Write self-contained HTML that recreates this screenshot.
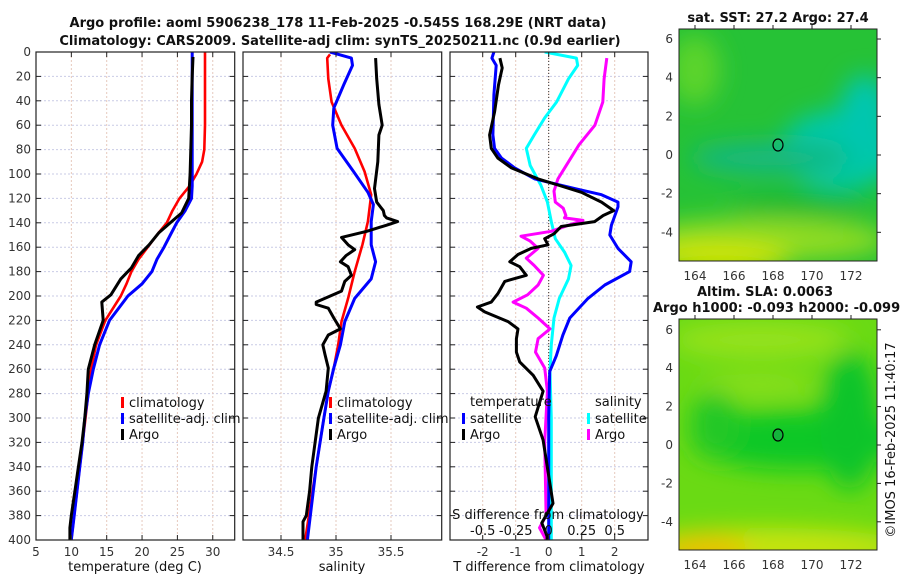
<!DOCTYPE html>
<html><head><meta charset="utf-8">
<style>
html,body{margin:0;padding:0;background:#fff;}
svg{display:block;font-family:"DejaVu Sans","Liberation Sans",sans-serif;}
.tk{font-size:12px;fill:#333;}
.lg{font-size:13px;fill:#111;}
.tt{font-size:13px;font-weight:bold;fill:#111;}
</style></head>
<body>
<svg id="fig" width="900" height="580" viewBox="0 0 900 580">
<defs>
<filter id="blur1" x="-50%" y="-50%" width="200%" height="200%"><feGaussianBlur stdDeviation="12"/></filter>
<clipPath id="clipM1"><rect x="679" y="29" width="198" height="232"/></clipPath>
<clipPath id="clipM2"><rect x="679" y="319" width="198" height="231"/></clipPath>
<clipPath id="clipP1"><rect x="36" y="52" width="199" height="488"/></clipPath>
<clipPath id="clipP2"><rect x="243" y="52" width="199" height="488"/></clipPath>
<clipPath id="clipP3"><rect x="450" y="52" width="198" height="488"/></clipPath>
</defs>
<text class="tt" x="338" y="27" text-anchor="middle">Argo profile: aoml 5906238_178 11-Feb-2025 -0.545S 168.29E (NRT data)</text>
<text class="tt" x="340" y="45" text-anchor="middle">Climatology: CARS2009. Satellite-adj clim: synTS_20250211.nc (0.9d earlier)</text>

<g id="grids"></g>
<g id="series"></g>
<g id="axes"></g>

<g>
<rect x="121" y="397" width="3" height="11" fill="#f00"/><text class="lg" x="129" y="407">climatology</text>
<rect x="121" y="413" width="3" height="11" fill="#00f"/><text class="lg" x="129" y="423">satellite-adj. clim</text>
<rect x="121" y="429" width="3" height="11" fill="#000"/><text class="lg" x="129" y="439">Argo</text>
</g>
<g>
<rect x="329" y="397" width="3" height="11" fill="#f00"/><text class="lg" x="337" y="407">climatology</text>
<rect x="329" y="413" width="3" height="11" fill="#00f"/><text class="lg" x="337" y="423">satellite-adj. clim</text>
<rect x="329" y="429" width="3" height="11" fill="#000"/><text class="lg" x="337" y="439">Argo</text>
</g>
<g>
<text class="lg" x="470" y="406">temperature</text>
<rect x="462" y="413" width="3" height="11" fill="#00f"/><text class="lg" x="470" y="423">satellite</text>
<rect x="462" y="429" width="3" height="11" fill="#000"/><text class="lg" x="470" y="439">Argo</text>
<text class="lg" x="595" y="406">salinity</text>
<rect x="587" y="413" width="3" height="11" fill="#0ff"/><text class="lg" x="595" y="423">satellite</text>
<rect x="587" y="429" width="3" height="11" fill="#f0f"/><text class="lg" x="595" y="439">Argo</text>
</g>

<text class="lg" x="548" y="519" text-anchor="middle">S difference from climatology</text>
<g id="sdiffticks"></g>

<text class="lg" x="135" y="571" text-anchor="middle">temperature (deg C)</text>
<text class="lg" x="342" y="571" text-anchor="middle">salinity</text>
<text class="lg" x="549" y="571" text-anchor="middle">T difference from climatology</text>

<g>
<text class="tt" x="778" y="22" text-anchor="middle">sat. SST: 27.2 Argo: 27.4</text>
<g clip-path="url(#clipM1)">
<rect x="679" y="29" width="198" height="232" fill="#26c236"/>
<g filter="url(#blur1)">
<ellipse cx="695" cy="70" rx="25" ry="35" fill="#5cd42a"/>
<ellipse cx="840" cy="150" rx="60" ry="40" fill="#00c8a8"/>
<ellipse cx="770" cy="158" rx="80" ry="16" fill="#12b880"/>
<ellipse cx="865" cy="115" rx="25" ry="40" fill="#00c6b0"/>
<ellipse cx="760" cy="240" rx="130" ry="22" fill="#90dc20"/>
<ellipse cx="720" cy="258" rx="70" ry="16" fill="#d0e400"/>
<ellipse cx="800" cy="205" rx="70" ry="12" fill="#18b830"/>
</g>
</g>
<rect x="679" y="29" width="198" height="232" fill="none" stroke="#222" stroke-width="1"/>
<ellipse cx="778" cy="145" rx="5" ry="6" fill="none" stroke="#000" stroke-width="1.2"/>
</g>
<g>
<text class="tt" x="765" y="296" text-anchor="middle">Altim. SLA: 0.0063</text>
<text class="tt" x="653" y="312">Argo h1000: -0.093 h2000: -0.099</text>
<g clip-path="url(#clipM2)">
<rect x="679" y="319" width="198" height="231" fill="#6ada14"/>
<g filter="url(#blur1)">
<ellipse cx="760" cy="340" rx="90" ry="18" fill="#96e21a"/>
<ellipse cx="760" cy="385" rx="60" ry="10" fill="#90e01a"/>
<ellipse cx="800" cy="440" rx="110" ry="30" fill="#10c828"/>
<ellipse cx="715" cy="425" rx="25" ry="35" fill="#20c828"/>
<ellipse cx="850" cy="420" rx="30" ry="70" fill="#08c42c"/>
<ellipse cx="770" cy="548" rx="140" ry="20" fill="#c8e410"/>
<ellipse cx="705" cy="552" rx="45" ry="16" fill="#f0c000"/>
</g>
</g>
<rect x="679" y="319" width="198" height="231" fill="none" stroke="#222" stroke-width="1"/>
<ellipse cx="778" cy="435" rx="5" ry="6" fill="#14b43c" stroke="#000" stroke-width="1.2"/>
</g>
<g id="mapticks"></g>
<text class="lg" x="0" y="0" transform="translate(895,440) rotate(-90)" text-anchor="middle">©IMOS 16-Feb-2025 11:40:17</text>
</svg>

<script>
const depthTicks = [0,20,40,60,80,100,120,140,160,180,200,220,240,260,280,300,320,340,360,380,400];
const tempTicks = [5,10,15,20,25,30];
const salTicks = [34.5,35,35.5];
const tdiffTicks = [-2,-1,0,1,2];
const sdiffTicks = [-0.5,-0.25,0,0.25,0.5];
const sdiffTickLabels = ["-0.5","-0.25","0","0.25","0.5"];

const climTempDepth = [0,20,40,60,80,90,100,110,120,130,140,150,160,170,180,190,200,220,240,260,280,300,320,340,360,380,400];
const climTemp = [28.9,28.9,28.9,28.9,28.8,28.5,27.7,26.7,25.3,24.3,23.5,22.1,20.8,19.5,18.5,17.8,17.0,14.8,13.5,12.8,12.4,12.0,11.6,11.2,10.8,10.4,10.0];
const satTempDepth = [0,20,40,60,80,90,100,110,120,130,140,150,160,170,180,190,200,220,240,260,280,300,320,340,360,380,400];
const satTemp = [27.1,27.1,27.1,27.1,27.1,27.1,27.1,27.1,27.0,26.1,24.9,24.0,23.1,22.1,21.4,20.0,18.0,15.4,14.0,13.1,12.4,11.9,11.6,11.2,10.8,10.4,10.0];
const argoTempDepth = [4,20,40,60,80,100,110,120,132,140,148,158,167,177,186,199,205,220,240,260,280,300,320,340,360,380,385,390,400];
const argoTemp = [27.2,27.1,27.0,27.0,26.9,26.8,26.7,26.6,25.6,24.0,22.4,21.0,19.5,18.5,17.0,15.6,14.3,14.5,13.3,12.4,12.2,11.9,11.5,11.0,10.5,10.0,9.9,9.8,9.8];

const climSalDepth = [2,5,22,41,60,79,98,117,139,158,180,202,221,240,259,278,300,340,400];
const climSal = [34.945,34.92,34.93,34.96,35.05,35.17,35.26,35.32,35.29,35.24,35.17,35.11,35.05,35.02,34.98,34.93,34.89,34.82,34.72];
const satSalDepth = [0,5,11,27,46,60,79,98,115,125,139,158,172,186,202,221,240,259,278,300,340,400];
const satSal = [34.945,35.14,35.15,35.07,34.98,34.97,35.01,35.16,35.29,35.34,35.32,35.32,35.36,35.32,35.17,35.08,35.04,34.98,34.93,34.89,34.82,34.74];
const argoSalDepth = [5,22,43,60,68,90,112,123,130,134,136,139,142,147,152,158,162,167,172,176,183,188,196,205,207,210,218,227,232,240,248,259,278,300,320,340,360,380,385,400];
const argoSal = [35.36,35.37,35.39,35.42,35.39,35.38,35.35,35.37,35.43,35.44,35.46,35.56,35.46,35.28,35.05,35.11,35.17,35.09,35.04,35.11,35.14,35.08,35.05,34.82,34.82,34.93,34.98,35.04,34.93,34.88,34.90,34.93,34.91,34.84,34.81,34.78,34.76,34.73,34.70,34.70];

const satTdiffDepth = [0,5,11,35,68,79,87,95,104,112,117,123,127,142,150,161,172,180,191,202,218,232,249,262,300,400];
const satTdiff = [-1.66,-1.72,-1.59,-1.66,-1.69,-1.64,-1.43,-1.03,-0.42,0.79,1.6,2.1,2.1,1.9,1.85,2.1,2.5,2.45,1.7,1.19,0.64,0.43,0.23,0.03,0.0,0.0];
const argoTdiffDepth = [5,13,27,49,68,79,87,95,104,109,115,123,130,134,139,143,149,153,158,161,166,172,176,183,188,198,205,209,213,221,227,235,246,254,265,278,299,318,370,386,397,400];
const argoTdiff = [-1.48,-1.41,-1.52,-1.64,-1.79,-1.74,-1.54,-1.13,-0.32,0.28,0.99,1.6,1.97,1.65,1.39,0.38,0.16,-0.12,-0.02,-0.53,-0.93,-1.18,-0.88,-0.68,-1.33,-1.54,-1.74,-2.16,-1.94,-1.23,-0.93,-0.98,-0.98,-0.88,-0.47,-0.17,-0.41,-0.17,0.13,-0.21,-0.05,-0.05];
const satSdiffDepth = [0,5,11,22,41,54,68,79,93,109,123,139,153,164,175,186,202,218,240,262,300,400];
const satSdiff = [-0.03,0.21,0.22,0.15,0.06,-0.03,-0.11,-0.17,-0.14,-0.06,-0.01,0.02,0.05,0.12,0.17,0.15,0.08,0.04,0.02,0.01,0.02,0.02];
const argoSdiffDepth = [5,22,41,60,76,90,104,114,123,128,134,136,138,142,147,151,155,161,169,175,183,191,199,205,210,218,227,235,246,259,278,320,380,390,400];
const argoSdiff = [0.44,0.42,0.41,0.35,0.23,0.15,0.07,0.04,0.05,0.11,0.13,0.12,0.26,0.15,0.02,-0.21,-0.14,-0.08,-0.17,-0.11,-0.04,-0.08,-0.16,-0.27,-0.17,-0.08,0.01,-0.08,-0.1,-0.03,-0.01,-0.03,-0.02,-0.07,-0.02];

const lonTicks = [164,166,168,170,172];
const latTicks = [6,4,2,0,-2,-4];

const NS = "http://www.w3.org/2000/svg";
const yD = d => 52 + d * 1.22;
const xT = t => 36 + (t - 5) * 7.07;
const xS = s => 336 + (s - 35) * 110;
const xTd = v => 548.7 + v * 33;
const xSd = v => 548.7 + v * 132;
const lonX = l => 695 + (l - 164) * 19.5;
const lat1Y = l => 155 + (0 - l) * 19.33;
const lat2Y = l => 445 + (0 - l) * 19.2;

function mk(tag, attrs, parent) {
  const e = document.createElementNS(NS, tag);
  for (const k in attrs) e.setAttribute(k, attrs[k]);
  parent.appendChild(e);
  return e;
}
const grids = document.getElementById('grids');
const series = document.getElementById('series');
const axes = document.getElementById('axes');

const panels = [
  {x0:36, x1:234.7, ticks:tempTicks, sc:xT, name:'temperature'},
  {x0:243, x1:441.7, ticks:salTicks, sc:xS, name:'salinity'},
  {x0:450, x1:648, ticks:tdiffTicks, sc:xTd, name:'t-difference'}
];
panels.forEach((p, i) => {
  depthTicks.forEach(d => {
    const g = mk('line', {x1:p.x0, x2:p.x1, y1:yD(d), y2:yD(d), stroke:'#c9cbe6', 'stroke-width':1, 'stroke-dasharray':'2,2'}, grids);
    
    
    const t1 = mk('line', {x1:p.x0, x2:p.x0+5, y1:yD(d), y2:yD(d), stroke:'#222'}, axes);
    
    
    const t2 = mk('line', {x1:p.x1-5, x2:p.x1, y1:yD(d), y2:yD(d), stroke:'#222'}, axes);
    
    
    if (i === 0) {
      const tl = mk('text', {x:31, y:yD(d)+4, 'text-anchor':'end', class:'tk'}, axes);
      tl.textContent = String(d);
      
      
    }
  });
  p.ticks.forEach(t => {
    const x = p.sc(t);
    const g = mk('line', {x1:x, x2:x, y1:52, y2:540, stroke:'#e6c9bd', 'stroke-width':1, 'stroke-dasharray':'2,2'}, grids);
    
    
    const a = mk('line', {x1:x, x2:x, y1:540, y2:535, stroke:'#222'}, axes);
    
    
    const b = mk('line', {x1:x, x2:x, y1:52, y2:57, stroke:'#222'}, axes);
    
    
    const tl = mk('text', {x:x, y:556, 'text-anchor':'middle', class:'tk'}, axes);
    tl.textContent = String(t);
    
    
  });
  const fr = mk('rect', {x:p.x0, y:52, width:p.x1-p.x0, height:488, fill:'none', stroke:'#222', 'stroke-width':1.2}, axes);
  
  
});
const zl = mk('line', {x1:xTd(0), x2:xTd(0), y1:52, y2:540, stroke:'#333', 'stroke-width':1, 'stroke-dasharray':'1,2'}, grids);



const sdt = document.getElementById('sdiffticks');
sdiffTicks.forEach((v, i) => {
  const t = mk('text', {x:xSd(v), y:535, 'text-anchor':'middle', class:'lg'}, sdt);
  t.textContent = sdiffTickLabels[i];
  
  
});

function line(depths, vals, sc, color, w, clip, name) {
  const pts = depths.map((d, i) => sc(vals[i]).toFixed(1) + ',' + yD(d).toFixed(1)).join(' ');
  const pl = mk('polyline', {points:pts, fill:'none', stroke:color, 'stroke-width':w, 'stroke-linejoin':'round', 'clip-path':'url(#' + clip + ')'}, series);
  
  
}
line(climTempDepth, climTemp, xT, '#f00', 2.6, 'clipP1', 'climatology-temperature-line');
line(satTempDepth, satTemp, xT, '#00f', 3, 'clipP1', 'satellite-temperature-line');
line(argoTempDepth, argoTemp, xT, '#000', 3, 'clipP1', 'argo-temperature-line');
line(climSalDepth, climSal, xS, '#f00', 2.6, 'clipP2', 'climatology-salinity-line');
line(satSalDepth, satSal, xS, '#00f', 3, 'clipP2', 'satellite-salinity-line');
line(argoSalDepth, argoSal, xS, '#000', 3, 'clipP2', 'argo-salinity-line');
line(satSdiffDepth, satSdiff, xSd, '#0ff', 3, 'clipP3', 'satellite-salinity-difference-line');
line(argoSdiffDepth, argoSdiff, xSd, '#f0f', 3, 'clipP3', 'argo-salinity-difference-line');
line(satTdiffDepth, satTdiff, xTd, '#00f', 3, 'clipP3', 'satellite-temperature-difference-line');
line(argoTdiffDepth, argoTdiff, xTd, '#000', 3, 'clipP3', 'argo-temperature-difference-line');

const mt = document.getElementById('mapticks');
[[29,261,lat1Y],[319,550,lat2Y]].forEach(([top, bot, ly]) => {
  lonTicks.forEach(l => {
    const t = mk('text', {x:lonX(l), y:bot+19, 'text-anchor':'middle', class:'tk'}, mt);
    t.textContent = String(l);
    
    
    const k = mk('line', {x1:lonX(l), x2:lonX(l), y1:top, y2:top-4, stroke:'#222'}, mt);
    
    
  });
  latTicks.forEach(l => {
    const t = mk('text', {x:673, y:ly(l)+4, 'text-anchor':'end', class:'tk'}, mt);
    t.textContent = String(l);
    
    
    const k = mk('line', {x1:877, x2:881, y1:ly(l), y2:ly(l), stroke:'#222'}, mt);
    
    
  });
});
</script>
</body></html>
